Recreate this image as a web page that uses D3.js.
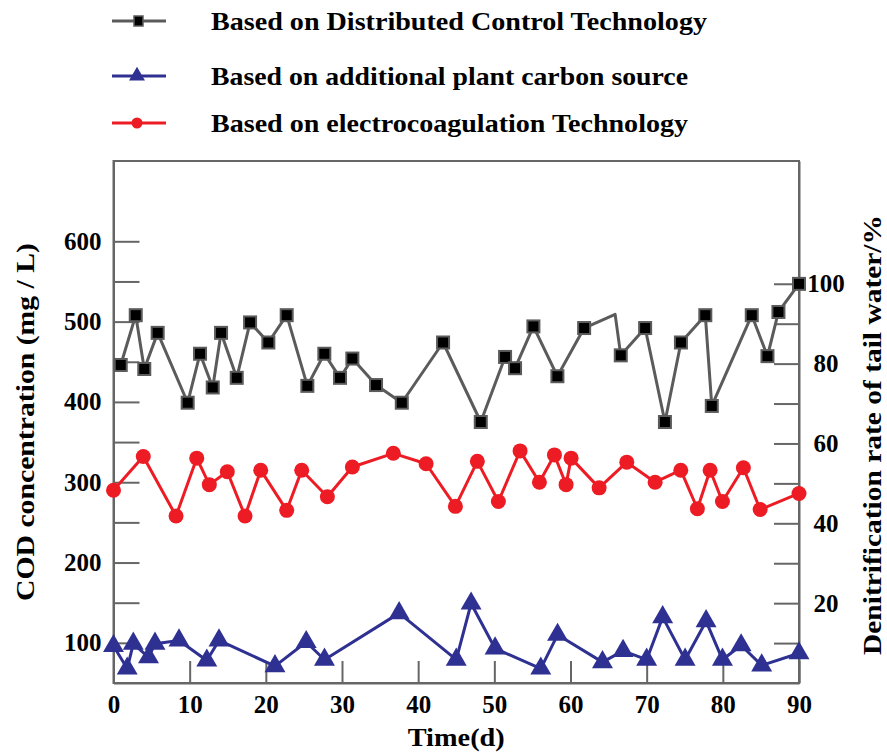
<!DOCTYPE html>
<html>
<head>
<meta charset="utf-8">
<title>COD concentration over time</title>
<script src="https://d3js.org/d3.v7.min.js"></script>
<style>
  body { margin: 0; background: #fff; }
  svg { display: block; }
  text { font-family: "Liberation Serif", "Times New Roman", serif; font-weight: bold; fill: #000; }
  .axis path, .axis line { stroke: #666; stroke-width: 2; }
</style>
</head>
<body>
<script>
// size of the picture
var w = 887, h = 753;
var plotL = 113.5, plotR = 799, plotT = 161, plotB = 683;

// Based on Distributed Control Technology (grey squares)
var dcDays = [0.95, 2.92, 4.04, 5.8, 9.74, 11.36, 13.03, 14.12, 16.18, 17.93, 20.33, 22.74,
  25.45, 27.68, 29.74, 31.36, 34.47, 37.85, 43.27, 48.22, 51.41, 52.72, 55.13, 58.28,
  61.79, 65.86, 66.6, 69.8, 72.4, 74.5, 77.7, 78.55, 83.8, 85.86, 87.3, 90];
var dcCOD = [446, 508, 441, 486, 399, 460, 418, 486, 430, 499, 474, 508,
  420, 460, 430, 454, 421, 399, 474, 375, 456, 442, 494, 432,
  492, 509, 458, 492, 375, 474, 508, 395, 508, 457, 512, 547];
var dcNoMarker = [65.86]; // a corner of the line with no square on it

// Based on additional plant carbon source (blue triangles)
var pcDays = [0, 1.8, 2.6, 4.6, 5.45, 8.6, 12.25, 13.85, 21.2, 25.3, 27.7, 37.5, 45.0,
  46.95, 50.1, 56.1, 58.3, 64.2, 66.9, 70.0, 72.1, 75.05, 77.8, 79.95, 82.4, 85.1, 90];
var pcCOD = [96, 68, 99, 82, 99, 103, 78, 103, 71, 101, 79, 137, 79,
  149, 93, 68, 110, 76, 90, 79, 132, 79, 127, 79, 97, 72, 87];

// Based on electrocoagulation Technology (red circles)
var ecDays = [0, 3.91, 8.21, 10.93, 12.58, 14.94, 17.27, 19.33, 22.74, 24.71, 28.08, 31.36,
  36.74, 41.04, 44.89, 47.77, 50.53, 53.38, 55.92, 57.89, 59.42, 60.08, 63.76, 67.39,
  71.11, 74.48, 76.66, 78.33, 79.95, 82.7, 84.9, 90];
var ecCOD = [290, 332, 258, 330, 297, 313, 258, 315, 265, 315, 282, 319,
  336, 323, 270, 326, 276, 339, 300, 334, 297, 330, 293, 325,
  300, 315, 267, 315, 276, 318, 266, 286];

// axis ticks
var xTicks = [0, 10, 20, 30, 40, 50, 60, 70, 80, 90];
var leftTicks = [100, 150, 200, 250, 300, 350, 400, 450, 500, 550, 600];
var rightTicks = [10, 20, 30, 40, 50, 60, 70, 80, 90, 100];

var legendNames = ["Based on Distributed Control Technology",
  "Based on additional plant carbon source",
  "Based on electrocoagulation Technology"];

var grey = "#5b5b5b", blue = "#2e3192", red = "#ed1c24";

var x = d3.scaleLinear().domain([0, 90]).range([plotL, plotR]);
var y = d3.scaleLinear().domain([50, 700]).range([plotB, plotT]);
var y2 = d3.scaleLinear().domain([0, 130.75]).range([plotB, plotT]);

var svg = d3.select("body").append("svg")
  .attr("width", w)
  .attr("height", h);

// frame
svg.append("rect")
  .attr("x", plotL).attr("y", plotT)
  .attr("width", plotR - plotL).attr("height", plotB - plotT)
  .attr("fill", "none").attr("stroke", "#666").attr("stroke-width", 2);

// axes, ticks pointing inwards
var gx = svg.append("g").attr("class", "axis")
  .attr("transform", "translate(0," + plotB + ")")
  .call(d3.axisBottom(x).tickValues(xTicks).tickSize(-22).tickSizeOuter(0).tickPadding(12));

var gl = svg.append("g").attr("class", "axis")
  .attr("transform", "translate(" + plotL + ",0)")
  .call(d3.axisLeft(y).tickValues(leftTicks).tickSize(-26).tickSizeOuter(0).tickPadding(12)
    .tickFormat(function(d) { return d % 100 === 0 ? d : ""; }));

var gr = svg.append("g").attr("class", "axis")
  .attr("transform", "translate(" + plotR + ",0)")
  .call(d3.axisRight(y2).tickValues(rightTicks).tickSize(-25).tickSizeOuter(0).tickPadding(27)
    .tickFormat(function(d) { return d % 20 === 0 ? d : ""; }));

svg.selectAll(".axis text")
  .attr("fill", "#000")
  .style("font-size", "25px")
  .style("font-family", "'Liberation Serif', 'Times New Roman', serif")
  .style("font-weight", "bold");
gr.selectAll("text").attr("text-anchor", "middle");

// axis titles
svg.append("text")
  .attr("x", (plotL + plotR) / 2).attr("y", 746)
  .attr("text-anchor", "middle")
  .attr("textLength", 97).attr("lengthAdjust", "spacingAndGlyphs")
  .style("font-size", "26px")
  .text("Time(d)");

svg.append("text")
  .attr("transform", "translate(34," + ((plotT + plotB) / 2) + ") rotate(-90)")
  .attr("text-anchor", "middle")
  .attr("textLength", 358).attr("lengthAdjust", "spacingAndGlyphs")
  .style("font-size", "26px")
  .text("COD concentration (mg / L)");

svg.append("text")
  .attr("transform", "translate(881," + 435 + ") rotate(-90)")
  .attr("text-anchor", "middle")
  .attr("textLength", 440).attr("lengthAdjust", "spacingAndGlyphs")
  .style("font-size", "26px")
  .text("Denitrification rate of tail water/%");

var line = d3.line()
  .x(function(d) { return x(d[0]); })
  .y(function(d) { return y(d[1]); });

function pairs(days, vals) {
  return days.map(function(d, i) { return [d, vals[i]]; });
}

var dcData = pairs(dcDays, dcCOD);
var pcData = pairs(pcDays, pcCOD);
var ecData = pairs(ecDays, ecCOD);

// grey series
svg.append("path").datum(dcData)
  .attr("d", line).attr("fill", "none")
  .attr("stroke", grey).attr("stroke-width", 3).attr("stroke-linejoin", "round");
svg.selectAll(".dc").data(dcData.filter(function(d) { return dcNoMarker.indexOf(d[0]) < 0; }))
  .enter().append("rect").attr("class", "dc")
  .attr("x", function(d) { return x(d[0]) - 6; })
  .attr("y", function(d) { return y(d[1]) - 6; })
  .attr("width", 12).attr("height", 12)
  .attr("fill", "#000").attr("stroke", grey).attr("stroke-width", 2);

// red series
svg.append("path").datum(ecData)
  .attr("d", line).attr("fill", "none")
  .attr("stroke", red).attr("stroke-width", 3).attr("stroke-linejoin", "round");
svg.selectAll(".ec").data(ecData)
  .enter().append("circle").attr("class", "ec")
  .attr("cx", function(d) { return x(d[0]); })
  .attr("cy", function(d) { return y(d[1]); })
  .attr("r", 7.5)
  .attr("fill", red);

// blue series
var tri = d3.symbol().type(d3.symbolTriangle).size(190);
svg.append("path").datum(pcData)
  .attr("d", line).attr("fill", "none")
  .attr("stroke", blue).attr("stroke-width", 3).attr("stroke-linejoin", "round");
svg.selectAll(".pc").data(pcData)
  .enter().append("path").attr("class", "pc")
  .attr("transform", function(d) { return "translate(" + x(d[0]) + "," + y(d[1]) + ")"; })
  .attr("d", tri)
  .attr("fill", blue);

// legend
var legendY = [21, 76, 123];
var legendWidth = [496, 477, 477];
var legendColors = [grey, blue, red];
var lg = svg.selectAll(".legend").data(legendNames).enter().append("g")
  .attr("class", "legend")
  .attr("transform", function(d, i) { return "translate(0," + legendY[i] + ")"; });
lg.append("line")
  .attr("x1", 112).attr("x2", 166)
  .attr("stroke", function(d, i) { return legendColors[i]; })
  .attr("stroke-width", 3);
lg.append("text")
  .attr("x", 211).attr("dy", "0.35em")
  .attr("textLength", function(d, i) { return legendWidth[i]; })
  .attr("lengthAdjust", "spacingAndGlyphs")
  .style("font-size", "25px")
  .text(function(d) { return d; });
lg.filter(function(d, i) { return i === 0; }).append("rect")
  .attr("x", 134).attr("y", -5).attr("width", 9).attr("height", 10)
  .attr("fill", "#000").attr("stroke", grey).attr("stroke-width", 1.5);
lg.filter(function(d, i) { return i === 1; }).append("path")
  .attr("transform", "translate(137,0)")
  .attr("d", d3.symbol().type(d3.symbolTriangle).size(110))
  .attr("fill", blue);
lg.filter(function(d, i) { return i === 2; }).append("circle")
  .attr("cx", 137).attr("r", 5.5)
  .attr("fill", red);
</script>
</body>
</html>
